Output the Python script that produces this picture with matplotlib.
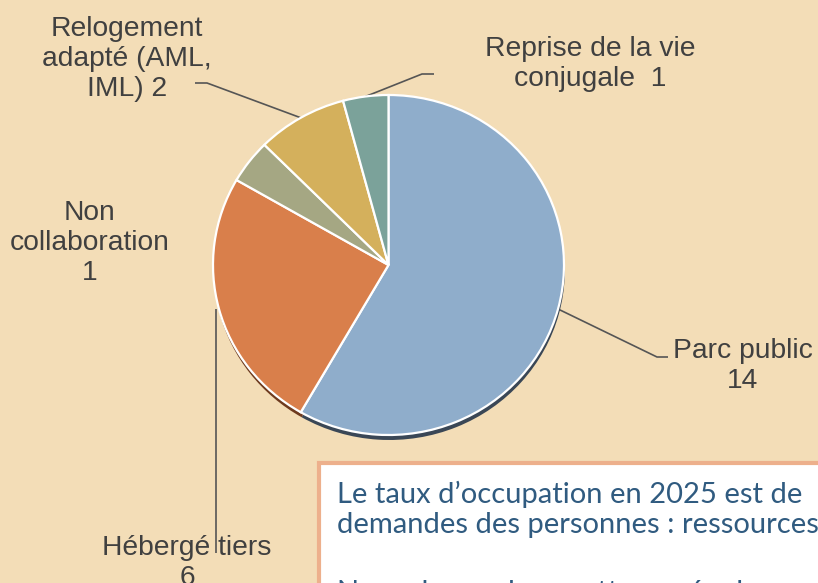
import numpy as np
import matplotlib
matplotlib.use("Agg")
import matplotlib.pyplot as plt
from matplotlib.patches import Rectangle

# ---- data ----
categories = ["Parc public", "Hébergé tiers", "Non collaboration",
              "Relogement adapté (AML, IML)", "Reprise de la vie conjugale"]
values = [14, 6, 1, 2, 1]
label_texts = ["Parc public\n14", "Hébergé tiers\n6", "Non\ncollaboration\n1",
               "Relogement\nadapté (AML,\nIML) 2", "Reprise de la vie\nconjugale  1"]
colors = ["#8FADCB", "#D97F4B", "#A5A783", "#D4B05C", "#7BA29A"]
shadow_colors = ["#3A4756", "#6E3A1E", "#5A5C45", "#7A6230", "#3F5A54"]
box_lines = ["Le taux d\u2019occupation en 2025 est de",
             "demandes des personnes : ressources",
             "Nous demandons cette année de nouveaux postes"]

W, H = 818, 583
BG = "#F3DDB7"
fig = plt.figure(figsize=(W / 100, H / 100), dpi=100, facecolor=BG)
ax = fig.add_axes([0, 0, 1, 1])
ax.set_facecolor(BG)
ax.set_xlim(0, W)
ax.set_ylim(0, H)
ax.axis("off")

def py(y):  # pixel-from-top to data y
    return H - y

# pie axes (slightly elliptical as in the reference)
cx, cy_top, rx, ry = 388.5, 265, 175.5, 170
pax = fig.add_axes([(cx - rx) / W, (H - cy_top - ry) / H, 2 * rx / W, 2 * ry / H])
pax.set_zorder(2)
pax.patch.set_alpha(0)

pax.pie(values, startangle=90, counterclock=False, colors=shadow_colors,
        center=(0.005, -5 / ry), radius=1,
        wedgeprops=dict(linewidth=0, zorder=1))
wedges, _ = pax.pie(values, startangle=90, counterclock=False, colors=colors,
                    center=(0, 0), radius=1,
                    wedgeprops=dict(edgecolor="white", linewidth=1.6, zorder=2))
pax.set_xlim(-1, 1)
pax.set_ylim(-1, 1)
pax.set_aspect("auto")
pax.axis("off")
for a in pax.patches:
    a.set_clip_on(False)

def to_main(x, y):
    disp = pax.transData.transform((x, y))
    return ax.transData.inverted().transform(disp)

# label layout (pixels from top)
label_pos = [(743, 366), (187, 563), (90, 243), (127, 59), (590, 64)]
knees = [[(657, 357), (668, 357)],
         [(216, 553)],
         None,
         [(207, 83), (195, 83)],
         [(422, 74), (434, 74)]]

txt_color = "#404040"
for i, (w, lt, (lx, ly), kn) in enumerate(zip(wedges, label_texts, label_pos, knees)):
    ang = np.deg2rad((w.theta1 + w.theta2) / 2)
    ax_x, ax_y = to_main(np.cos(ang), np.sin(ang))
    if kn is not None:
        if i == 1:  # vertical leader
            ax_x = kn[0][0]
        xs = [ax_x] + [k[0] for k in kn]
        ys = [ax_y] + [py(k[1]) for k in kn]
        ax.plot(xs, ys, color="#555555", lw=1.2, zorder=3, solid_capstyle="butt")
    ax.text(lx, py(ly), lt, ha="center", va="center", fontsize=20.3,
            family="Liberation Sans", color=txt_color, linespacing=1.22, zorder=4)

# text box at bottom right
ax.add_patch(Rectangle((318.5, py(600)), 600, 600 - 463, facecolor="white",
                       edgecolor="#EDB08C", linewidth=3, zorder=5))
baselines = [503, 533, 601]
for line, b in zip(box_lines, baselines):
    ax.text(337, py(b), line, ha="left", va="baseline", fontsize=21,
            family="Lato", color="#305B80", zorder=6)

fig.savefig("out.png", dpi=100, facecolor=BG)
